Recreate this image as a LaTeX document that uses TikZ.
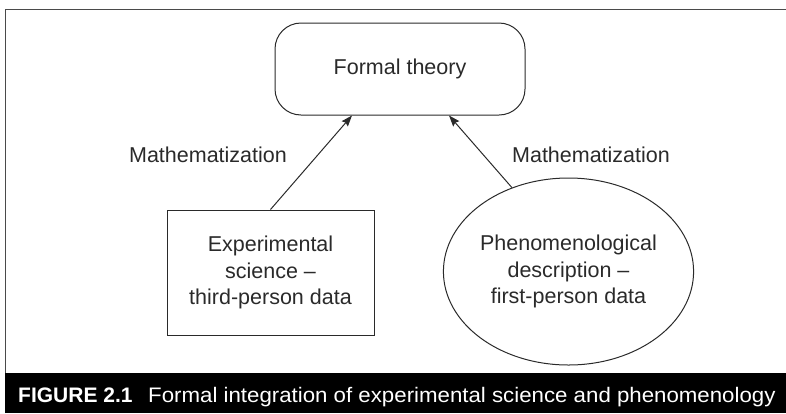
\documentclass[tikz,border=0pt]{standalone}
\usepackage{fontspec}
\setmainfont{Liberation Sans}
\usetikzlibrary{shapes.geometric,arrows.meta}
\definecolor{ink}{HTML}{2A2A2A}
\tikzset{
  bodytext/.style={text=ink, font=\fontsize{21.5}{26.5}\selectfont, align=center, inner sep=0pt},
  shapeline/.style={draw=ink, line width=1pt},
  conn/.style={draw=ink, line width=1pt, -{Stealth[length=11pt,width=8pt,inset=1.5pt]}},
}
\begin{document}
\begin{tikzpicture}[x=1pt,y=1pt]
\useasboundingbox (0,0) rectangle (786,-413);
% frame
\draw[draw=ink!85, line width=1.6pt] (5.5,-413) -- (5.5,-9.5) -- (786,-9.5);
% nodes
\node[shapeline, bodytext, rounded corners=26pt, minimum width=250pt, minimum height=92pt] (formal) at (400,-69) {Formal theory};
\node[shapeline, bodytext, rectangle, minimum width=207pt, minimum height=125pt] (expt) at (270.5,-272.5) {Experimental\\science --\\third-person data};
\node[shapeline, bodytext, ellipse, minimum width=212pt, minimum height=187pt, inner sep=0pt] (phen) at (568.5,-271.5) {Phenomenological\\description --\\first-person data};
% connectors
\draw[conn] (expt.north) -- ([xshift=-48pt]formal.south);
\draw[conn] (phen.124) -- ([xshift=49pt]formal.south);
% labels
\node[bodytext, anchor=base] (lab1) at (208,-162) {Mathematization};
\node[bodytext, anchor=base] (lab2) at (591,-162) {Mathematization};
% caption bar
\fill[black] (5,-373) rectangle (786,-413);
\node[text=white, anchor=base west, inner sep=0pt, font=\fontsize{21}{24}\selectfont\bfseries] (fig) at (18,-402) {FIGURE 2.1};
\node[text=white, anchor=base west, inner sep=0pt, font=\fontsize{21}{24}\selectfont] (cap) at (148,-402) {\scalebox{1.06}[1]{Formal integration of experimental science and phenomenology}};
\end{tikzpicture}
\end{document}
